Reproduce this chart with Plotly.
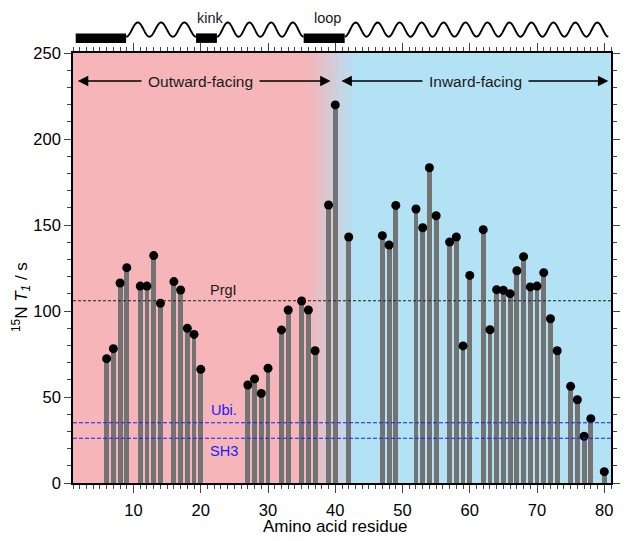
import numpy as np
import plotly.graph_objects as go

# ---------------- data ----------------
residues = [6, 7, 8, 9, 11, 12, 13, 14, 16, 17, 18, 19, 20,
            27, 28, 29, 30, 32, 33, 35, 36, 37, 39, 40, 42,
            47, 48, 49, 52, 53, 54, 55, 57, 58, 59, 60, 62, 63,
            64, 65, 66, 67, 68, 69, 70, 71, 72, 73, 75, 76, 77, 78, 80]
t1_values = [72.3, 78.1, 116.3, 125.2, 114.5, 114.5, 132.2, 104.5, 117.1, 112.2, 89.9, 86.4, 66.1,
             57.0, 60.5, 52.1, 66.7, 89.0, 100.6, 105.8, 100.6, 76.9, 161.6, 219.8, 143.0,
             143.8, 138.4, 161.4, 159.3, 148.4, 183.3, 155.4, 140.1, 143.0, 79.7, 120.7, 147.3, 89.1,
             112.4, 112.0, 110.1, 123.4, 131.6, 114.0, 114.5, 122.3, 95.5, 76.9, 56.2, 48.4, 27.2, 37.4, 6.6]

reference_names = ["PrgI", "Ubi.", "SH3"]
reference_values = [106, 35, 26]
reference_colors = ["#222222", "#1a1aff", "#1a1aff"]

# secondary structure: (kind, start residue, end residue, helix turns)
structure = [("bar", 1.4, 8.9, 0), ("helix", 8.9, 19.3, 3), ("bar", 19.3, 22.4, 0),
             ("helix", 22.4, 35.3, 4), ("bar", 35.3, 41.4, 0), ("helix", 41.4, 80.6, 12)]
structure_labels = [("kink", 21.5), ("loop", 38.9)]

x_ticks = [10, 20, 30, 40, 50, 60, 70, 80]
y_ticks = [0, 50, 100, 150, 200, 250]

PINK = (245, 181, 185)
BLUE = (179, 226, 245)
FONT = "Liberation Sans, Arial, sans-serif"

fig = go.Figure()

# ---------------- background ----------------
shapes = []
g0, g1 = 36.0, 43.0
shapes.append(dict(type="rect", xref="x", yref="y", x0=1, x1=g0 + 0.1, y0=0, y1=250,
                   fillcolor="rgb(%d,%d,%d)" % PINK, line_width=0, layer="below"))
n = 40
for i in range(n):
    a = g0 + (g1 - g0) * i / n
    t = (i + 0.5) / n
    c = tuple(int(round(PINK[k] + (BLUE[k] - PINK[k]) * t)) for k in range(3))
    shapes.append(dict(type="rect", xref="x", yref="y", x0=a, x1=g1 + 0.1, y0=0, y1=250,
                       fillcolor="rgb(%d,%d,%d)" % c, line_width=0, layer="below"))
shapes.append(dict(type="rect", xref="x", yref="y", x0=g1, x1=81, y0=0, y1=250,
                   fillcolor="rgb(%d,%d,%d)" % BLUE, line_width=0, layer="below"))

# reference lines
for name, val, col in zip(reference_names, reference_values, reference_colors):
    dash = "3px,2px" if name == "PrgI" else "4px,2px"
    shapes.append(dict(type="line", xref="paper", yref="y", x0=0, x1=1, y0=val, y1=val,
                       line=dict(color=col, width=1.1, dash=dash), layer="above"))

# secondary structure above the plot
bar_lo, bar_hi = 1.0235, 1.0456
valley, peak = 1.0379, 1.0710
for kind, s, e, turns in structure:
    if kind == "bar":
        shapes.append(dict(type="rect", xref="x", yref="paper", x0=s, x1=e, y0=bar_lo, y1=bar_hi,
                           fillcolor="black", line_width=0))
    else:
        tt = np.linspace(0, 1, 240)
        xs = s + (e - s) * tt
        ys = valley + (peak - valley) * (1 - np.cos(2 * np.pi * turns * tt)) / 2
        path = "M " + " L ".join("%.4f,%.5f" % (x, y) for x, y in zip(xs, ys))
        shapes.append(dict(type="path", xref="x", yref="paper", path=path,
                           line=dict(color="black", width=1.9)))

# ---------------- traces ----------------
fig.add_trace(go.Bar(x=residues, y=t1_values, width=0.72, marker_color="#737373",
                     marker_line_width=0, showlegend=False))
fig.add_trace(go.Scatter(x=residues, y=t1_values, mode="markers",
                         marker=dict(color="black", size=9), showlegend=False, cliponaxis=False))

# ---------------- annotations ----------------
ann = []
arrow_y = 233.7
for (x0, x1, label, xc, bg) in [(1.5, 39.3, "Outward-facing", 20.0, PINK),
                                (40.7, 80.6, "Inward-facing", 60.9, BLUE)]:
    ann.append(dict(x=x1, y=arrow_y, ax=x0, ay=arrow_y, xref="x", yref="y", axref="x", ayref="y",
                    text="", showarrow=True, arrowhead=2, startarrowhead=2, arrowside="end+start",
                    arrowsize=1.3, startarrowsize=1.3, arrowwidth=1.6, arrowcolor="black"))
    ann.append(dict(x=xc, y=arrow_y, xref="x", yref="y", text=label, showarrow=False,
                    xanchor="center", yanchor="middle",
                    font=dict(family=FONT, size=15.5, color="#1a1a1a"),
                    bgcolor="rgb(%d,%d,%d)" % bg, borderpad=6))

for name, ypos, col in [("PrgI", 112.2, "#1a1a1a"), ("Ubi.", 42.4, "#1a1aff"), ("SH3", 18.6, "#1a1aff")]:
    ann.append(dict(x=23.4, y=ypos, xref="x", yref="y", text=name, showarrow=False,
                    xanchor="center", yanchor="middle",
                    font=dict(family=FONT, size=14.5, color=col)))

for lab, xp in structure_labels:
    ann.append(dict(x=xp, y=1.081, xref="x", yref="paper", text=lab, showarrow=False,
                    xanchor="center", yanchor="middle",
                    font=dict(family=FONT, size=14.5, color="#1a1a1a")))

ann.append(dict(x=-0.097, y=0.432, xref="paper", yref="paper", showarrow=False, textangle=-90,
                xanchor="center", yanchor="middle",
                text="<sup>15</sup>N <i>T</i><sub><i>1</i></sub> / s",
                font=dict(family=FONT, size=17, color="black")))
ann.append(dict(x=40.0, y=-0.102, xref="x", yref="paper", showarrow=False,
                xanchor="center", yanchor="middle",
                text="Amino acid residue", font=dict(family=FONT, size=17, color="black")))

fig.update_layout(
    width=627, height=541,
    margin=dict(l=73, r=7, t=53, b=58),
    paper_bgcolor="white", plot_bgcolor="white",
    shapes=shapes, annotations=ann, bargap=0,
    font=dict(family=FONT, size=16, color="black"),
)
fig.update_xaxes(range=[1, 81], tickvals=x_ticks, ticks="outside", ticklen=8, tickwidth=1.3,
                 showline=True, linecolor="black", linewidth=1.6, mirror="ticks",
                 showgrid=False, zeroline=False, ticklabelstandoff=3,
                 minor=dict(dtick=1, tick0=0, ticks="outside", ticklen=4, tickwidth=1.1, showgrid=False),
                 tickfont=dict(family=FONT, size=16.5))
fig.update_yaxes(range=[0, 250], tickvals=y_ticks, ticks="outside", ticklen=7, tickwidth=1.3,
                 showline=True, linecolor="black", linewidth=1.6, mirror="ticks",
                 showgrid=False, zeroline=False,
                 minor=dict(dtick=10, tick0=0, ticks="outside", ticklen=4, tickwidth=1.1, showgrid=False),
                 tickfont=dict(family=FONT, size=16.5))

fig.write_html("out.html")
